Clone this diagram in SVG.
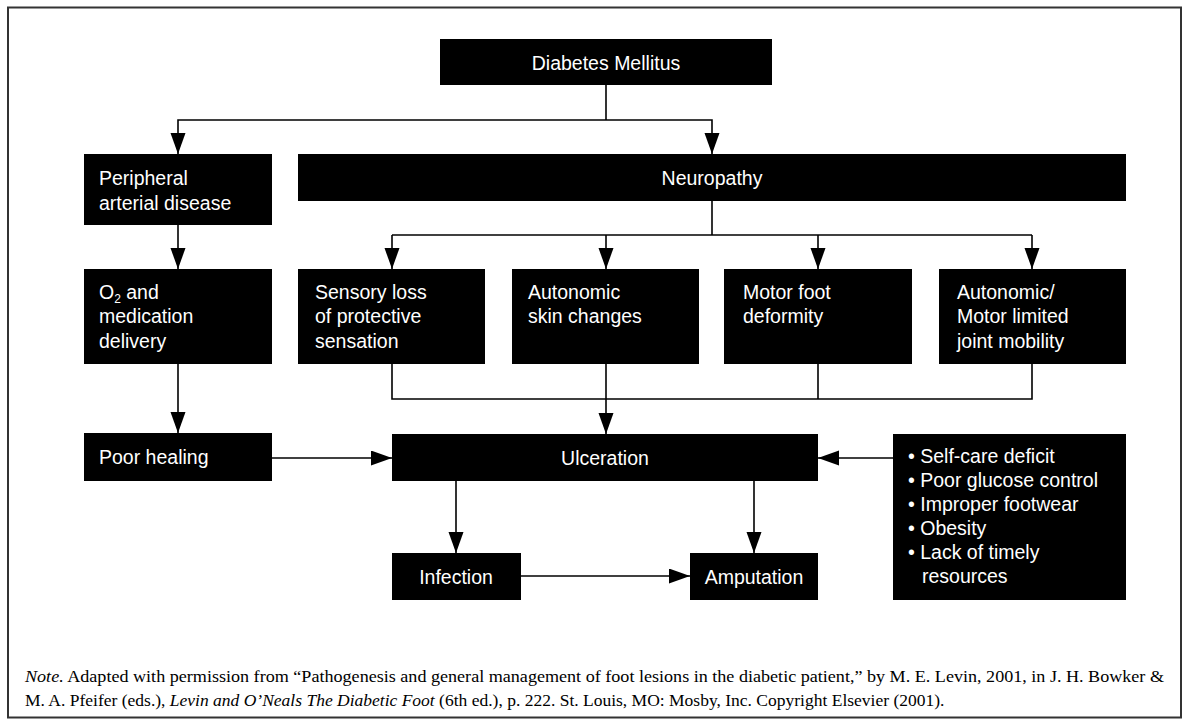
<svg xmlns="http://www.w3.org/2000/svg" width="1183" height="725" viewBox="0 0 1183 725">
<style>
.box{fill:#000}
.t{font-family:"Liberation Sans",Arial,sans-serif;font-size:19.5px;fill:#fff}
.c{text-anchor:middle}
.ln{stroke:#000;stroke-width:1.6;fill:none}
.note{font-family:"Liberation Serif","Times New Roman",serif;font-size:17.5px;fill:#000}
</style>
<defs>
<marker id="ah" markerUnits="userSpaceOnUse" markerWidth="22" markerHeight="16" refX="21" refY="7.5" orient="auto">
<path d="M0,0 L21,7.5 L0,15 z" fill="#000"/>
</marker>
</defs>
<rect x="8" y="7.5" width="1173" height="710" fill="#fff" stroke="#333" stroke-width="2"/>

<g id="connectors">
<path class="ln" d="M606,85 V120"/>
<path class="ln" d="M606,120 H178 V154" marker-end="url(#ah)"/>
<path class="ln" d="M606,120 H712 V154" marker-end="url(#ah)"/>
<path class="ln" d="M178,225 V269" marker-end="url(#ah)"/>
<path class="ln" d="M712,201 V235"/>
<path class="ln" d="M392,235 H1032"/>
<path class="ln" d="M392,235 V269" marker-end="url(#ah)"/>
<path class="ln" d="M606,235 V269" marker-end="url(#ah)"/>
<path class="ln" d="M818,235 V269" marker-end="url(#ah)"/>
<path class="ln" d="M1032,235 V269" marker-end="url(#ah)"/>
<path class="ln" d="M178,364 V433" marker-end="url(#ah)"/>
<path class="ln" d="M392,364 V399 H1032 V364"/>
<path class="ln" d="M818,364 V399"/>
<path class="ln" d="M606,364 V434" marker-end="url(#ah)"/>
<path class="ln" d="M272,458 H392" marker-end="url(#ah)"/>
<path class="ln" d="M893,458 H818" marker-end="url(#ah)"/>
<path class="ln" d="M456,481 V553" marker-end="url(#ah)"/>
<path class="ln" d="M754,481 V553" marker-end="url(#ah)"/>
<path class="ln" d="M521,576 H690" marker-end="url(#ah)"/>
</g>

<g id="diabetes">
<rect class="box" x="440" y="39" width="332" height="46"/>
<text class="t c" x="606" y="70">Diabetes Mellitus</text>
</g>
<g id="pad">
<rect class="box" x="84" y="154" width="188" height="71"/>
<text class="t" x="99" y="185">Peripheral</text>
<text class="t" x="99" y="210">arterial disease</text>
</g>
<g id="neuropathy">
<rect class="box" x="298" y="154" width="828" height="47"/>
<text class="t c" x="712" y="185">Neuropathy</text>
</g>
<g id="o2">
<rect class="box" x="84" y="269" width="188" height="95"/>
<text class="t" x="99" y="299">O<tspan font-size="12" dy="4">2</tspan><tspan dy="-4"> and</tspan></text>
<text class="t" x="99" y="323">medication</text>
<text class="t" x="99" y="348">delivery</text>
</g>
<g id="sensory">
<rect class="box" x="298" y="269" width="187" height="95"/>
<text class="t" x="315" y="299">Sensory loss</text>
<text class="t" x="315" y="323">of protective</text>
<text class="t" x="315" y="348">sensation</text>
</g>
<g id="autoskin">
<rect class="box" x="512" y="269" width="187" height="95"/>
<text class="t" x="528" y="299">Autonomic</text>
<text class="t" x="528" y="323">skin changes</text>
</g>
<g id="motor">
<rect class="box" x="724" y="269" width="188" height="95"/>
<text class="t" x="743" y="299">Motor foot</text>
<text class="t" x="743" y="323">deformity</text>
</g>
<g id="automotor">
<rect class="box" x="939" y="269" width="187" height="95"/>
<text class="t" x="957" y="299">Autonomic/</text>
<text class="t" x="957" y="323">Motor limited</text>
<text class="t" x="957" y="348">joint mobility</text>
</g>
<g id="poorhealing">
<rect class="box" x="84" y="433" width="188" height="48"/>
<text class="t" x="99" y="464">Poor healing</text>
</g>
<g id="ulceration">
<rect class="box" x="392" y="434" width="426" height="47"/>
<text class="t c" x="605" y="465">Ulceration</text>
</g>
<g id="factors">
<rect class="box" x="893" y="434" width="233" height="166"/>
<text class="t" x="908" y="463">• Self-care deficit</text>
<text class="t" x="908" y="487">• Poor glucose control</text>
<text class="t" x="908" y="511">• Improper footwear</text>
<text class="t" x="908" y="535">• Obesity</text>
<text class="t" x="908" y="559">• Lack of timely</text>
<text class="t" x="922" y="583">resources</text>
</g>
<g id="infection">
<rect class="box" x="392" y="553" width="129" height="47"/>
<text class="t c" x="456" y="584">Infection</text>
</g>
<g id="amputation">
<rect class="box" x="690" y="553" width="128" height="47"/>
<text class="t c" x="754" y="584">Amputation</text>
</g>

<g id="note">
<text class="note" x="25" y="682" textLength="1139" lengthAdjust="spacingAndGlyphs"><tspan font-style="italic">Note.</tspan> Adapted with permission from “Pathogenesis and general management of foot lesions in the diabetic patient,” by M. E. Levin, 2001, in J. H. Bowker &amp;</text>
<text class="note" x="25" y="706">M. A. Pfeifer (eds.), <tspan font-style="italic">Levin and O’Neals The Diabetic Foot</tspan> (6th ed.), p. 222. St. Louis, MO: Mosby, Inc. Copyright Elsevier (2001).</text>
</g>
</svg>
